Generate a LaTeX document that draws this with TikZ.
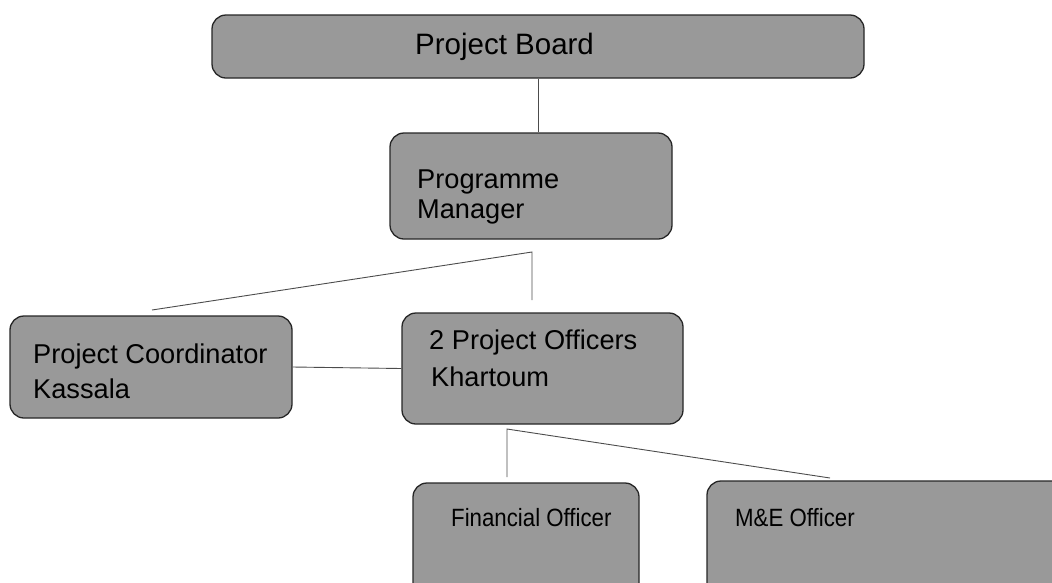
\documentclass[tikz,border=0pt]{standalone}
\usepackage{fontspec}
\setmainfont{Liberation Sans}
\begin{document}
\begin{tikzpicture}[x=1pt,y=-1pt,
  box/.style={draw=black!85, line width=1.3pt, fill=black!40,
    rounded corners=14pt, rectangle, inner sep=0pt},
  lbl/.style={anchor=base west, inner sep=0pt, text=black,
    font=\fontsize{27.2}{31}\selectfont},
  biglbl/.style={lbl, font=\fontsize{29.5}{33}\selectfont},
  narrowlbl/.style={lbl, font=\fontsize{25}{29}\selectfont,
    xscale=0.89, transform shape},
  link/.style={draw=black!70, line width=0.9pt}]
\useasboundingbox (0,0) rectangle (1052,582);
\clip (0,0) rectangle (1052,582);

% boxes (pixel units)
\node[box, minimum width=652pt, minimum height=63pt] (board) at (538,46.5) {};
\node[box, minimum width=282pt, minimum height=106pt] (pm) at (531,186) {};
\node[box, minimum width=282pt, minimum height=102pt] (pc) at (151,367) {};
\node[box, minimum width=281pt, minimum height=111pt] (po) at (542.5,368.5) {};
\node[box, minimum width=226pt, minimum height=130pt] (fin) at (526,548) {};
\node[box, minimum width=360pt, minimum height=130pt] (me) at (887,546) {};

% labels
\node[biglbl] (boardT) at (415,54) {Project Board};
\node[lbl] (pmA) at (417,188) {Programme};
\node[lbl] (pmB) at (417,218) {Manager};
\node[lbl] (pcA) at (33,363) {Project Coordinator};
\node[lbl] (pcB) at (33,398) {Kassala};
\node[lbl] (poA) at (429,349) {2 Project Officers};
\node[lbl] (poB) at (431,386) {Khartoum};
\node[narrowlbl] (finT) at (451,526) {Financial Officer};
\node[narrowlbl] (meT) at (735,526) {M\&E Officer};

% connector junctions
\coordinate (j1) at (532,252);
\coordinate (j1l) at (152,310);
\coordinate (j1d) at (532,300);
\coordinate (j2) at (507,429);
\coordinate (j2d) at (507,477);
\coordinate (j2r) at (830,478);

% connectors
\draw[link] (board.south) -- (board.south |- pm.north);
\draw[link] (j1l) -- (j1) -- (j1d);
\draw[link] (pc.east) -- (po.west);
\draw[link] (j2d) -- (j2) -- (j2r);
\end{tikzpicture}
\end{document}
